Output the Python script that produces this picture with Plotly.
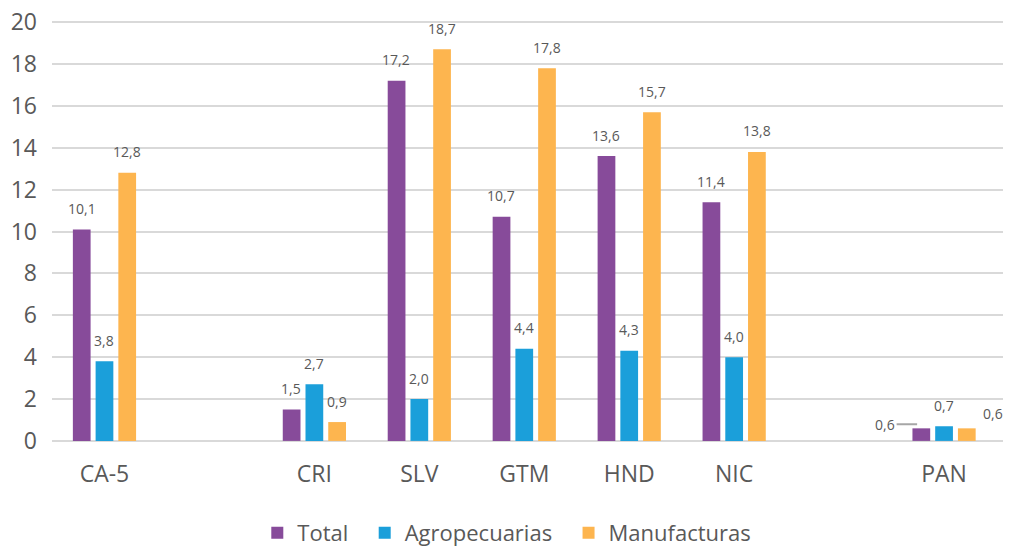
import plotly.graph_objects as go

# ----------------------------------
# Data
# ----------------------------------
categories = ["CA-5", "CRI", "SLV", "GTM", "HND", "NIC", "PAN"]
axis_order = ["CA-5", " ", "CRI", "SLV", "GTM", "HND", "NIC", "  ", "PAN"]

total = [10.1, 1.5, 17.2, 10.7, 13.6, 11.4, 0.6]
agropecuarias = [3.8, 2.7, 2.0, 4.4, 4.3, 4.0, 0.7]
manufacturas = [12.8, 0.9, 18.7, 17.8, 15.7, 13.8, 0.6]

y_ticks = [0, 2, 4, 6, 8, 10, 12, 14, 16, 18, 20]

series = [
    ("Total", total, "#874B9A"),
    ("Agropecuarias", agropecuarias, "#1B9FDA"),
    ("Manufacturas", manufacturas, "#FDB54F"),
]

FONT = "Open Sans, Calibri, sans-serif"
GREY = "#595959"

# layout geometry (pixels); the page body adds an 8px offset,
# the figure is taller than the window so the legend never pushes margins
WIDTH, HEIGHT = 1011, 570
MARGIN = dict(l=44, r=14, t=12, b=135)
BARGAP = 0.35
slot_px = (WIDTH - MARGIN["l"] - MARGIN["r"]) / len(axis_order) * (1 - BARGAP) / 3

fig = go.Figure()

for i, (name, values, color) in enumerate(series):
    fig.add_trace(
        go.Bar(
            x=categories,
            y=values,
            name=name + "\u00a0\u00a0",
            marker=dict(color=color, line=dict(width=0)),
        )
    )

    # ----------------------------------
    # Data labels
    # ----------------------------------
    for cat, v in zip(categories, values):
        label = f"{v:.1f}".replace(".", ",")
        if cat == "PAN" and i == 0:
            # leader line label, as in the original
            fig.add_annotation(
                x=cat, y=v, text=label,
                showarrow=True, arrowhead=0, arrowwidth=2,
                arrowcolor="#A6A6A6",
                xshift=(i - 1) * slot_px - 4, yshift=4,
                ax=-32, ay=0,
                font=dict(family=FONT, size=14, color=GREY),
            )
            continue
        xs, ys = (i - 1) * slot_px, 21
        if cat == "PAN" and i == 2:
            xs, ys = xs + 26, 15
        fig.add_annotation(
            x=cat,
            y=v,
            text=label,
            showarrow=False,
            xshift=xs,
            yshift=ys,
            yanchor="middle",
            font=dict(family=FONT, size=14, color=GREY),
        )

fig.update_layout(
    width=WIDTH,
    height=HEIGHT,
    margin=MARGIN,
    plot_bgcolor="white",
    paper_bgcolor="white",
    font=dict(family=FONT, color=GREY, size=22),
    barmode="group",
    bargap=BARGAP,
    bargroupgap=0.22,
    xaxis=dict(
        type="category",
        categoryorder="array",
        categoryarray=axis_order,
        showgrid=False,
        showline=False,
        zeroline=False,
        ticks="",
        tickfont=dict(size=23, color=GREY),
        ticklabelstandoff=15,
        automargin=False,
    ),
    yaxis=dict(
        range=[-0.1, 20.1],
        tickvals=y_ticks,
        showgrid=True,
        gridcolor="#D9D9D9",
        gridwidth=2,
        zeroline=False,
        showline=False,
        tickfont=dict(size=23, color=GREY),
        ticklabelstandoff=14,
        ticklabeloverflow="allow",
        automargin=False,
    ),
    legend=dict(
        orientation="h",
        x=0.483,
        xanchor="center",
        y=-0.2128,
        yanchor="middle",
        font=dict(size=22, color=GREY),
        itemwidth=30,
        traceorder="normal",
    ),
    showlegend=True,
)

fig.write_html("out.html")
